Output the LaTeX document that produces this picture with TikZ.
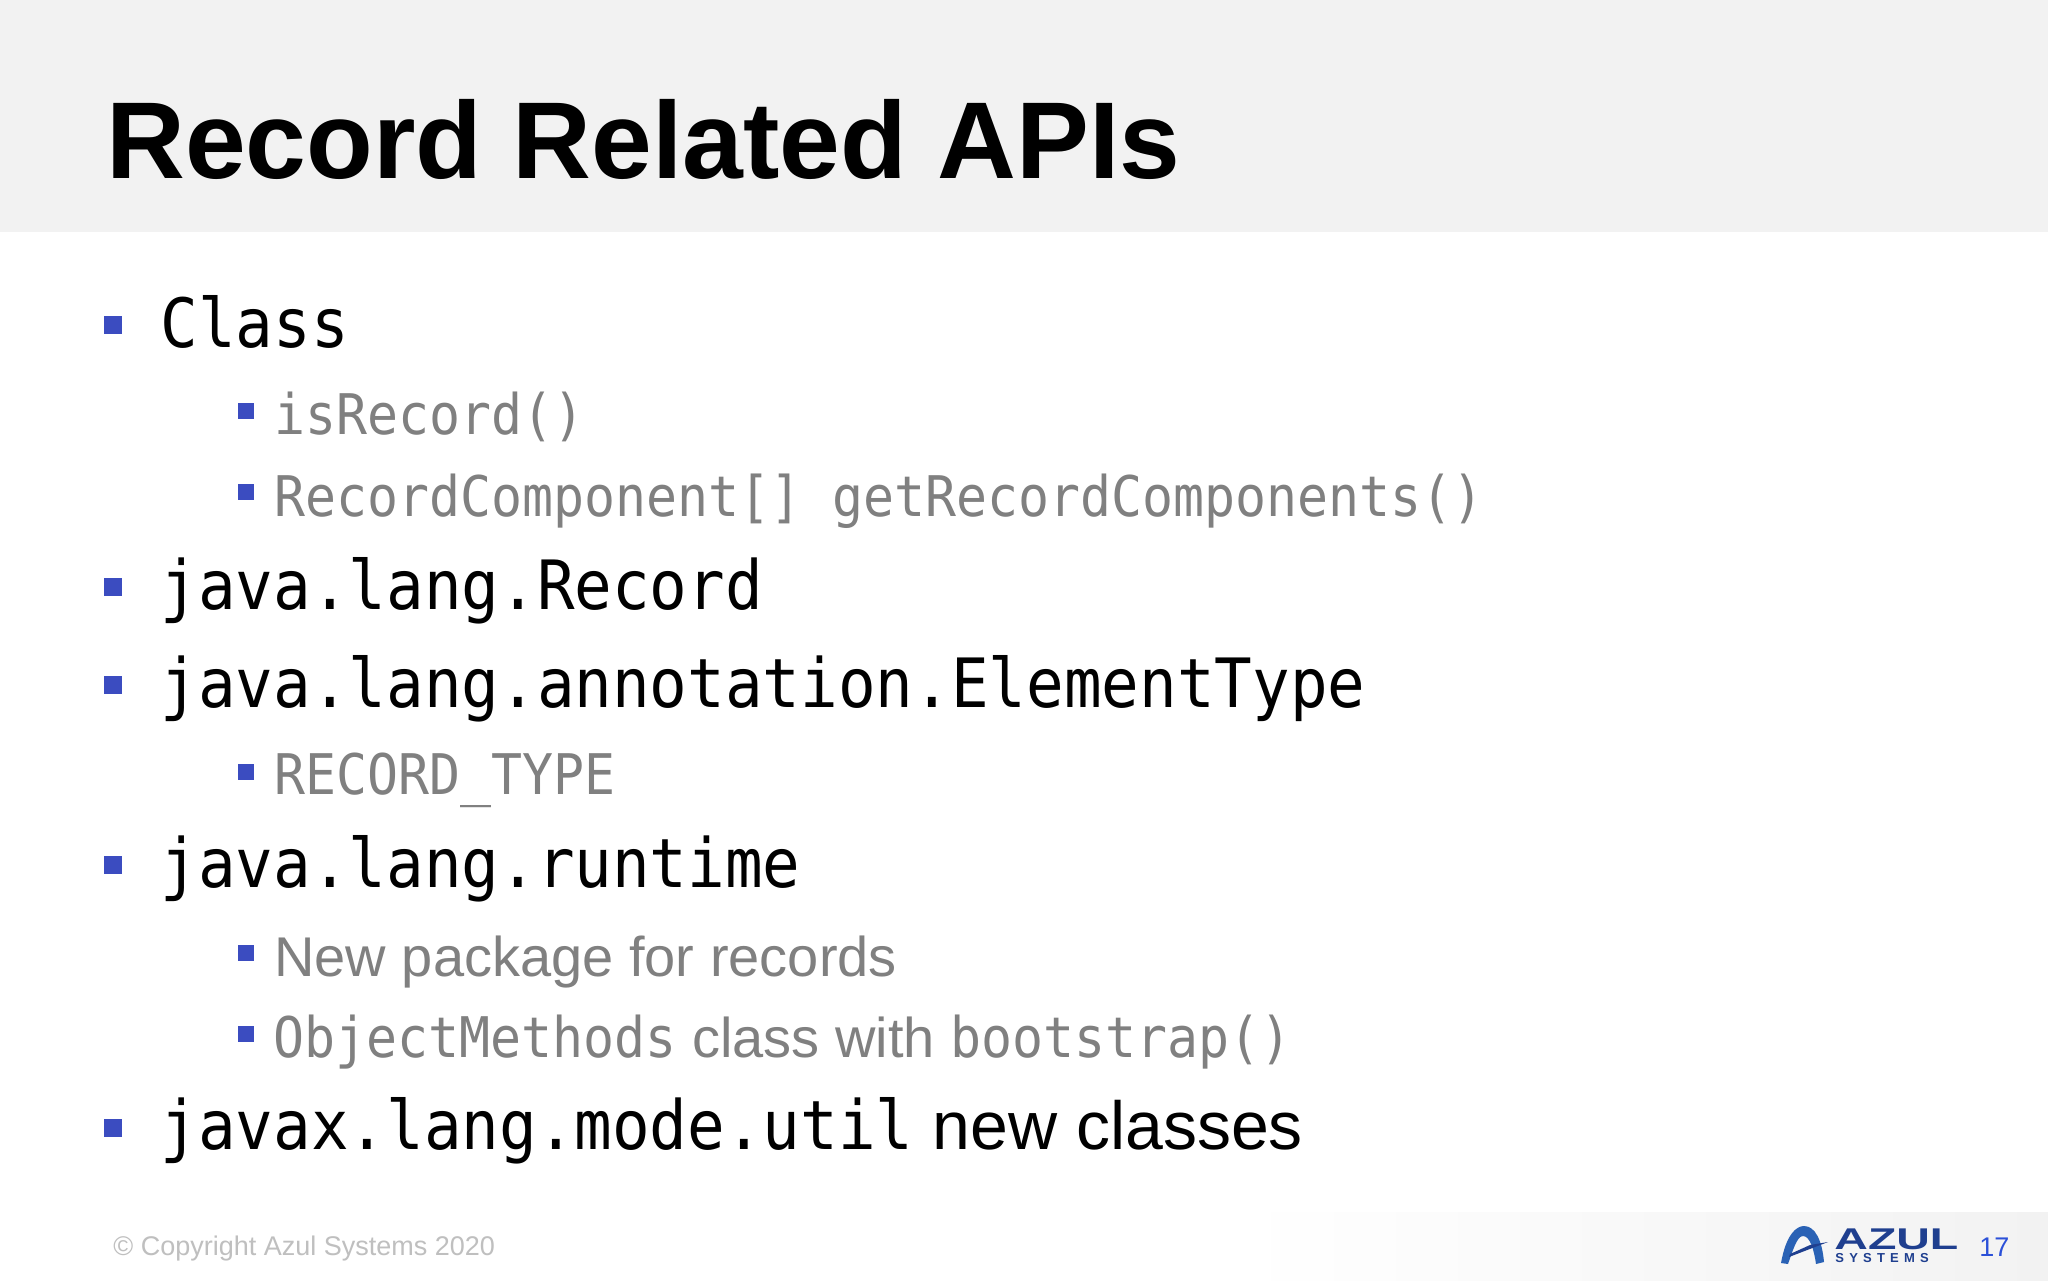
\documentclass[tikz,border=0pt]{standalone}
\usepackage{fontspec}
\setmainfont{Liberation Sans}
\newfontfamily\codefont[FakeStretch=0.92]{DejaVu Sans Mono}
\newfontfamily\logofont[FakeStretch=1.55]{Liberation Sans}
\definecolor{headgray}{HTML}{F2F2F2}
\definecolor{subgray}{HTML}{808080}
\definecolor{bulletblue}{HTML}{3B4CC0}
\definecolor{logoblue}{HTML}{1F3F8F}
\definecolor{logolight}{HTML}{2A62B5}
\definecolor{pageblue}{HTML}{2B50D8}
\tikzset{
  title/.style={anchor=base west, inner sep=0pt, font=\fontsize{54.6}{60}\selectfont\bfseries},
  topitem/.style={anchor=base west, inner sep=0pt, text=black, font=\fontsize{34}{40}\selectfont},
  subitem/.style={anchor=base west, inner sep=0pt, text=subgray, font=\fontsize{28}{34}\selectfont},
  topbullet/.style={fill=bulletblue, inner sep=0pt, minimum size=9pt},
  subbullet/.style={fill=bulletblue, inner sep=0pt, minimum size=8pt},
}
\begin{document}
\begin{tikzpicture}[x=0.5pt, y=-0.5pt]
    \useasboundingbox (0,0) rectangle (2048,1280);
    \fill[white] (0,0) rectangle (2048,1280);

    % header band
    \fill[headgray] (0,0) rectangle (2048,232);
    \node[title] (heading) at (106,178) {Record Related APIs};

    % footer band
    \shade[left color=white, right color=headgray] (1240,1212) rectangle (2048,1280);

    % first level
    \node[topbullet] (b1) at (113,325) {};
    \node[topitem] (class) at (160,347) {\codefont Class};
    \node[topbullet] (b2) at (113,587) {};
    \node[topitem] (record) at (160,609) {\codefont java.lang.Record};
    \node[topbullet] (b3) at (113,685) {};
    \node[topitem] (elemtype) at (160,707) {\codefont java.lang.annotation.ElementType};
    \node[topbullet] (b4) at (113,865) {};
    \node[topitem] (runtime) at (160,887) {\codefont java.lang.runtime};
    \node[topbullet] (b5) at (113,1128) {};
    \node[topitem] (util) at (160,1149) {\codefont javax.lang.mode.util\normalfont\ new classes};

    % second level
    \node[subbullet] (s1) at (246,411) {};
    \node[subitem] (isrecord) at (274,434) {\codefont isRecord()};
    \node[subbullet] (s2) at (246,492) {};
    \node[subitem] (getcomp) at (274,516) {\codefont RecordComponent[] getRecordComponents()};
    \node[subbullet] (s3) at (246,772) {};
    \node[subitem] (rectype) at (274,794) {\codefont RECORD\_TYPE};
    \node[subbullet] (s4) at (246,953) {};
    \node[subitem] (newpkg) at (274,976) {New package for records};
    \node[subbullet] (s5) at (246,1034) {};
    \node[subitem] (objmeth) at (273,1057) {\codefont ObjectMethods\normalfont\ class with \codefont bootstrap()};

    % footer
    \node[anchor=base west, inner sep=0pt, text=black!25, font=\fontsize{13.5}{16}\selectfont] (copyright) at (113,1255) {\textcopyright{} Copyright Azul Systems 2020};
    \node[anchor=base west, inner sep=0pt, text=pageblue, font=\fontsize{13.5}{16}\selectfont] (pagenum) at (1979,1256) {17};

    % logo
    \fill[logolight] (1781,1263) .. controls (1786,1235) and (1796,1226) .. (1804,1226)
        .. controls (1815,1226) and (1822,1240) .. (1824,1262) -- (1816,1264)
        .. controls (1814,1250) and (1810,1236) .. (1803,1236)
        .. controls (1797,1236) and (1793,1250) .. (1788,1264) -- cycle;
    \fill[logoblue] (1789,1257) -- (1828,1242) -- (1810,1245) -- (1790,1254) -- cycle;
    \node[anchor=base west, inner sep=0pt, text=logoblue, font=\fontsize{15}{16}\selectfont\logofont\bfseries] (azul) at (1834,1249) {AZUL};
    \node[anchor=base west, inner sep=0pt, text=logoblue, font=\fontsize{6.5}{8}\selectfont\bfseries] (systems) at (1835,1262) {S\hspace{2.6pt}Y\hspace{2.6pt}S\hspace{2.6pt}T\hspace{2.6pt}E\hspace{2.6pt}M\hspace{2.6pt}S};
\end{tikzpicture}
\end{document}
